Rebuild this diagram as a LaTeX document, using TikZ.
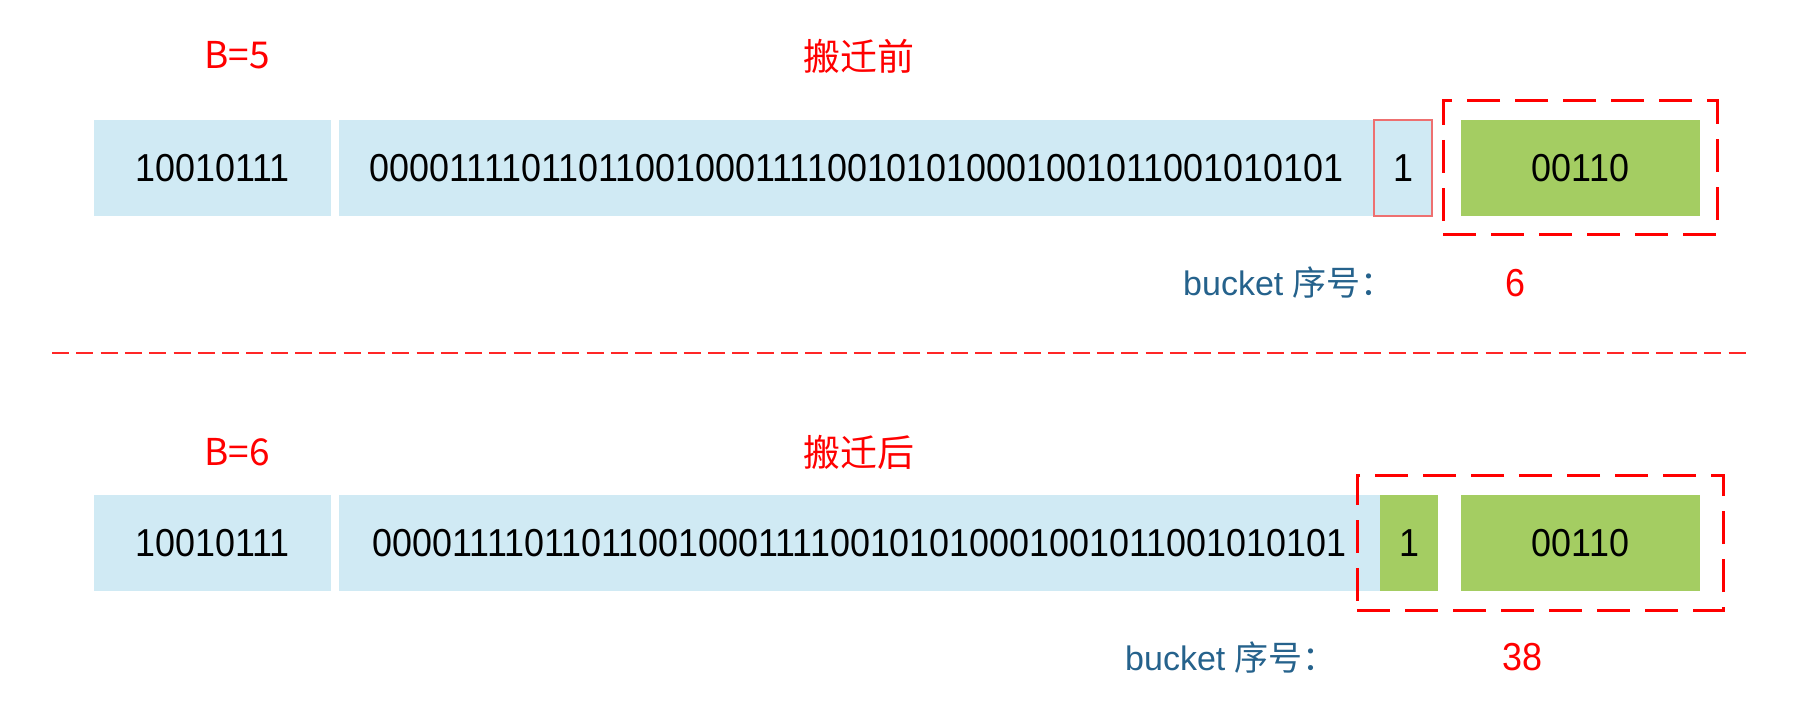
\documentclass[tikz,border=0pt]{standalone}
\usepackage{fontspec}
\setmainfont{Liberation Sans}
\newfontfamily\digitfont[FakeStretch=0.92]{Liberation Sans}
\newfontfamily\cjk{Noto Sans CJK SC}
\definecolor{boxblue}{HTML}{D0EAF4}
\definecolor{boxgreen}{HTML}{A4CD62}
\definecolor{myred}{HTML}{FF0000}
\definecolor{labelblue}{HTML}{25628C}
\definecolor{softred}{HTML}{EE7070}
\tikzset{
  cell/.style={inner sep=0pt, outer sep=0pt, minimum height=96pt, font=\digitfont\fontsize{39}{41}\selectfont, text=black},
  bluecell/.style={cell, fill=boxblue},
  greencell/.style={cell, fill=boxgreen},
  redtxt/.style={inner sep=0pt, text=myred, font=\digitfont\fontsize{39}{41}\selectfont},
  cjktxt/.style={inner sep=0pt, text=myred, font=\cjk\fontsize{37}{40}\selectfont},
  bucketlbl/.style={inner sep=0pt, anchor=west, text=labelblue, font=\fontsize{34}{36}\selectfont},
  dashbox/.style={draw=myred, line width=3pt, dash pattern=on 33pt off 15pt, inner sep=0pt, outer sep=0pt},
  sepline/.style={draw=myred!85!white, line width=1.8pt, dash pattern=on 17pt off 7.3pt}
}
\begin{document}
\begin{tikzpicture}[x=1pt,y=-1pt]
\useasboundingbox[fill=white] (0,0) rectangle (1812,706);
% top row
\node[cjktxt] (t1) at (237,55) {B=5};
\node[cjktxt] (t2) at (859,56) {搬迁前};
\node[bluecell, minimum width=237pt] (a1) at (212.5,168) {10010111};
\node[bluecell, minimum width=1035pt] (a2) at (856.5,168) {00001111011011001000111100101010001001011001010101};
\node[bluecell, minimum width=58pt, draw=softred, line width=1.2pt] (a3) at (1403,168) {1};
\node[greencell, minimum width=239pt] (a4) at (1580.5,168) {00110};
\node[dashbox, minimum width=274pt, minimum height=133pt] (d1) at (1580,167.5) {};
\node[bucketlbl] (l1) at (1183,283) {bucket {\cjk 序号：}};
\node[redtxt] (n1) at (1515,283) {6};
% separator
\coordinate (s1) at (52,353);
\coordinate (s2) at (1747,353);
\draw[sepline] (s1) -- (s2);
% bottom row
\node[cjktxt] (b1) at (237,452) {B=6};
\node[cjktxt] (b2) at (859,452) {搬迁后};
\node[bluecell, minimum width=237pt] (c1) at (212.5,543) {10010111};
\node[bluecell, minimum width=1041pt] (c2) at (859.5,543) {00001111011011001000111100101010001001011001010101};
\node[greencell, minimum width=58pt] (c3) at (1409,543) {1};
\node[greencell, minimum width=239pt] (c4) at (1580.5,543) {00110};
\node[dashbox, minimum width=366pt, minimum height=135pt] (d2) at (1540,542.5) {};
\node[bucketlbl] (l2) at (1125,658) {bucket {\cjk 序号：}};
\node[redtxt] (n2) at (1522,657) {38};
\end{tikzpicture}
\end{document}
